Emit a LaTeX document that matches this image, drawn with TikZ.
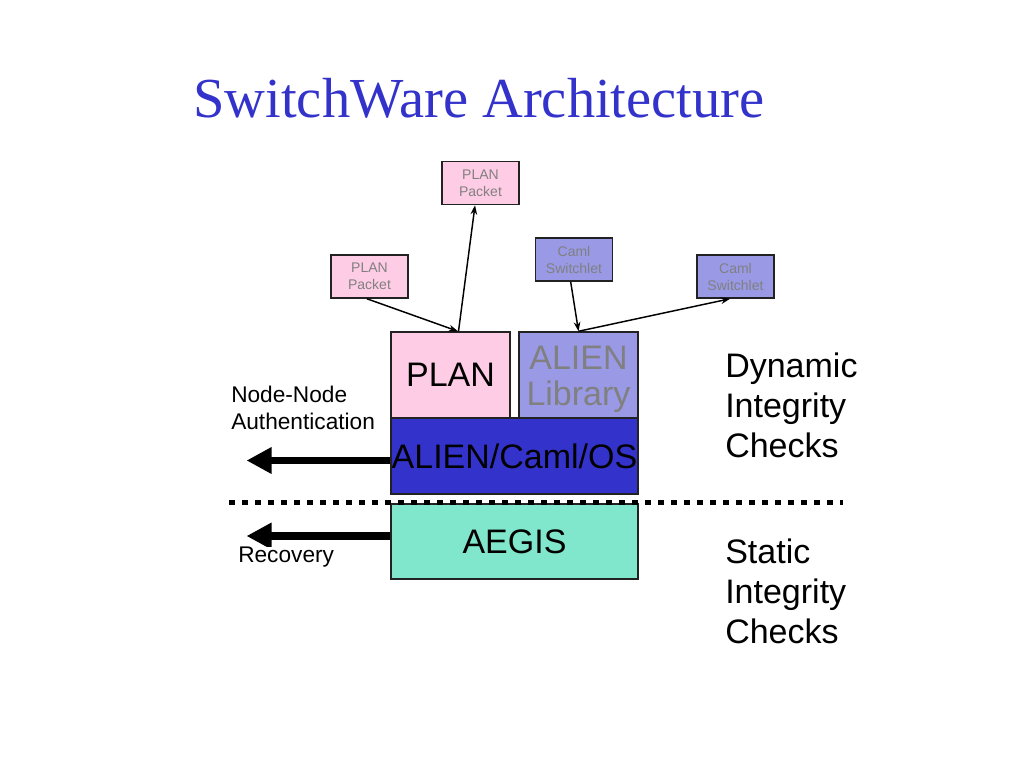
\documentclass[tikz,border=0pt]{standalone}
\usepackage{fontspec}
\setmainfont{Liberation Sans}
\newfontfamily\titlefont{Liberation Serif}
\usetikzlibrary{arrows.meta}
\definecolor{titleblue}{HTML}{3333CC}
\definecolor{pinkfill}{HTML}{FFCCE5}
\definecolor{lavfill}{HTML}{9999E6}
\definecolor{osfill}{HTML}{3333CC}
\definecolor{aegisfill}{HTML}{80E6CC}
\definecolor{boxline}{HTML}{222222}
\definecolor{greytext}{HTML}{808080}
\begin{document}
\begin{tikzpicture}[x=0.75pt,y=-0.75pt,
  pkt/.style={draw=boxline, line width=1.1pt, fill=pinkfill, text=greytext,
    font=\fontsize{10.5}{12.75}\selectfont, align=center,
    minimum width=57.75pt, minimum height=32.25pt, inner sep=0pt},
  swl/.style={pkt, fill=lavfill},
  layer/.style={draw=boxline, line width=1.1pt, inner sep=0pt,
    font=\fontsize{25.5}{30}\selectfont, align=center},
  conn/.style={line width=1.1pt, -{Stealth[length=7pt,width=5pt]}},
  bigarrow/.style={line width=5.6pt, -{Triangle[length=18.75pt,width=18.75pt]}},
  dotline/.style={line width=4.3pt, dash pattern=on 4.3pt off 5.45pt},
  side/.style={anchor=base west, inner sep=0pt, font=\fontsize{25.5}{30}\selectfont},
  lbl/.style={anchor=base west, inner sep=0pt, font=\fontsize{17}{20}\selectfont}]
\useasboundingbox (0,0) rectangle (1024,768);
\fill[white] (0,0) rectangle (1024,768);

% title
\node[anchor=base west, inner sep=0pt, text=titleblue, font=\titlefont\fontsize{42.4}{48}\selectfont]
  (title) at (193,117) {SwitchWare Architecture};

% small boxes
\node[pkt] (pktT) at (480.5,183) {PLAN\\Packet};
\node[pkt] (pktL) at (369.5,276.5) {PLAN\\Packet};
\node[swl] (swM) at (574,259.5) {Caml\\Switchlet};
\node[swl] (swR) at (735.5,276.5) {Caml\\Switchlet};

% layers
\node[layer, fill=pinkfill, minimum width=89.25pt, minimum height=64.5pt] (plan) at (450.5,375) {PLAN};
\node[layer, fill=lavfill, text=greytext, minimum width=89.25pt, minimum height=64.5pt,
  font=\fontsize{25.5}{27}\selectfont] (alien) at (578.5,375) {\rule{0pt}{23.5pt}ALIEN\\Library};
\node[layer, fill=osfill, minimum width=185.25pt, minimum height=57pt] (aco) at (514.5,456) {\raisebox{-3pt}{ALIEN/Caml/OS}};
\node[layer, fill=aegisfill, minimum width=185.25pt, minimum height=56.25pt] (aegis) at (514.5,541.5) {AEGIS};

% dotted separator
\coordinate (dl) at (229,502.5);
\coordinate (dr) at (843,502.5);
\draw[dotline] (dl) -- (dr);

% connectors
\draw[conn] ([xshift=-2pt]pktL.south) -- ([xshift=5.6pt]plan.north);
\draw[conn] ([xshift=6pt]plan.north) -- ([xshift=-4.1pt]pktT.south);
\draw[conn] ([xshift=-2.5pt]swM.south) -- (alien.north);
\draw[conn] (alien.north) -- ([xshift=-4pt]swR.south);

% big arrows
\coordinate (tipA) at (246.5,460.5);
\coordinate (tipR) at (246.5,536);
\draw[bigarrow] (aco.west |- tipA) -- (tipA);
\draw[bigarrow] (aegis.west |- tipR) -- (tipR);

% labels
\node[lbl] (nn1) at (231,402) {Node-Node};
\node[lbl] (nn2) at (231,429) {Authentication};
\node[lbl, fill=white] (rec) at (238,562.5) {Recovery};

\node[side] (d1) at (725,377) {Dynamic};
\node[side] (d2) at (725,417) {Integrity};
\node[side] (d3) at (725,457) {Checks};
\node[side] (s1) at (725,563) {Static};
\node[side] (s2) at (725,603) {Integrity};
\node[side] (s3) at (725,643) {Checks};
\end{tikzpicture}
\end{document}
